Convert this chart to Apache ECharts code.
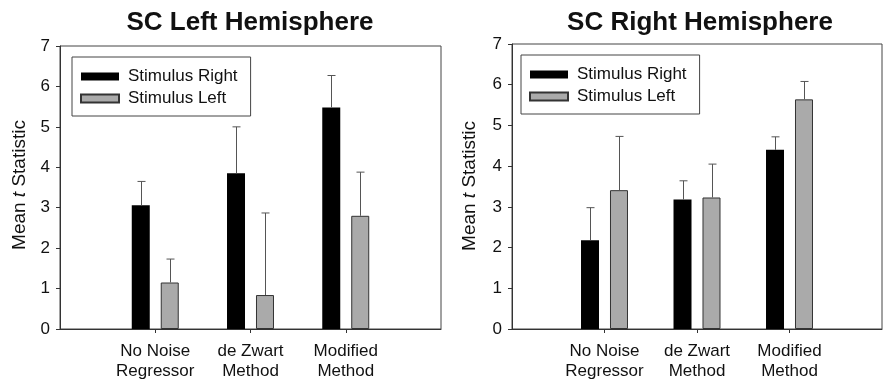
<!DOCTYPE html>
<html>
<head>
<meta charset="utf-8">
<script src="https://cdn.jsdelivr.net/npm/echarts@6/dist/echarts.min.js"></script>
<style>
  html, body { margin: 0; padding: 0; background: #fff; }
  #chart { width: 885px; height: 384px; }
</style>
</head>
<body>
<div id="chart"></div>
<script>
// categories (first/last are empty padding slots on the x axis)
var categories = ['', 'No Noise\nRegressor', 'de Zwart\nMethod', 'Modified\nMethod', ''];
var seriesNames = ['Stimulus Right', 'Stimulus Left'];
var yTicks = [0, 1, 2, 3, 4, 5, 6, 7];

// SC Left Hemisphere: means and standard errors (upper whisker only)
var lhStimRight = [3.06, 3.85, 5.48];
var lhStimRightErr = [0.59, 1.15, 0.79];
var lhStimLeft = [1.15, 0.84, 2.80];
var lhStimLeftErr = [0.58, 2.03, 1.08];

// SC Right Hemisphere
var rhStimRight = [2.18, 3.18, 4.40];
var rhStimRightErr = [0.80, 0.46, 0.32];
var rhStimLeft = [3.41, 3.23, 5.64];
var rhStimLeftErr = [1.32, 0.82, 0.44];

var FONT = '"Liberation Sans", Arial, sans-serif';
var BAR_W = 18;
var BAR_OFFSET = 14.5;   // distance of each bar centre from category centre

var dom = document.getElementById('chart');
var myChart = echarts.init(dom, null, { renderer: 'canvas' });

function pairs(arr) {
    return arr.map(function (v, i) { return [i + 1, v]; });
}
function errRows(means, errs) {
    return means.map(function (v, i) { return [i + 1, v, errs[i]]; });
}

// upper error whisker with a small cap
function errorRender(offset) {
    return function (params, api) {
        var base = api.coord([api.value(0), api.value(1)]);
        var top = api.coord([api.value(0), api.value(1) + api.value(2)]);
        var x = Math.round(base[0] + offset) + 0.5;
        var st = { stroke: '#555', lineWidth: 1 };
        return {
            type: 'group',
            children: [
                { type: 'line', shape: { x1: x, y1: base[1], x2: x, y2: top[1] }, style: st },
                { type: 'line', shape: { x1: x - 4, y1: top[1], x2: x + 4, y2: top[1] }, style: st }
            ]
        };
    };
}

function xAxisFor(gi) {
    return {
        type: 'category',
        gridIndex: gi,
        data: categories,
        boundaryGap: false,
        axisLine: { lineStyle: { color: '#333', width: 1 } },
        axisTick: {
            length: 4,
            interval: function (i) { return i > 0 && i < categories.length - 1; },
            lineStyle: { color: '#333' }
        },
        axisLabel: {
            interval: 0,
            margin: 12,
            color: '#111',
            fontSize: 17,
            lineHeight: 20,
            fontFamily: FONT
        },
        splitLine: { show: false }
    };
}

function yAxisFor(gi) {
    return {
        type: 'value',
        gridIndex: gi,
        min: yTicks[0],
        max: yTicks[yTicks.length - 1],
        interval: 1,
        axisLine: { show: true, lineStyle: { color: '#333', width: 1 } },
        axisTick: { show: true, length: 4, lineStyle: { color: '#333' } },
        axisLabel: { margin: 10, color: '#111', fontSize: 17, fontFamily: FONT },
        splitLine: { show: false }
    };
}

// rotated y axis title "Mean t Statistic" with italic t, built from three pieces
var measureCtx = document.createElement('canvas').getContext('2d');
function textW(str, font) {
    measureCtx.font = font;
    return measureCtx.measureText(str).width;
}
function yTitle(x, y) {
    var fN = '19px ' + FONT, fI = 'italic 19px ' + FONT;
    var parts = [['Mean ', fN], ['t', fI], [' Statistic', fN]];
    var total = 0;
    parts.forEach(function (p) { total += textW(p[0], p[1]); });
    var cx = -total / 2;
    var kids = parts.map(function (p) {
        var el = {
            type: 'text', x: cx, y: 0,
            style: { text: p[0], font: p[1], fill: '#111', align: 'left', verticalAlign: 'middle' }
        };
        cx += textW(p[0], p[1]);
        return el;
    });
    return { type: 'group', x: x, y: y, rotation: Math.PI / 2, children: kids };
}

function legendFor(left, top) {
    return {
        orient: 'vertical',
        left: left,
        top: top,
        data: seriesNames,
        icon: 'rect',
        itemWidth: 38,
        itemHeight: 8,
        itemGap: 5,
        padding: [11, 13, 9, 8],
        borderColor: '#444',
        borderWidth: 1,
        selectedMode: false,
        textStyle: { fontSize: 17, color: '#111', fontFamily: FONT, padding: [0, 0, 0, 4] }
    };
}

function barSeries(name, gi, values, color) {
    return {
        name: name,
        type: 'bar',
        xAxisIndex: gi,
        yAxisIndex: gi,
        barWidth: BAR_W,
        barGap: '61%',
        data: pairs(values),
        itemStyle: { color: color, borderColor: '#333', borderWidth: color === '#000' ? 0 : 1 },
        z: 2
    };
}

function errSeries(gi, means, errs, offset) {
    return {
        type: 'custom',
        xAxisIndex: gi,
        yAxisIndex: gi,
        data: errRows(means, errs),
        renderItem: errorRender(offset),
        encode: { x: 0, y: 1 },
        z: 3,
        silent: true
    };
}

var option = {
    animation: false,
    backgroundColor: '#fff',
    textStyle: { fontFamily: FONT },
    graphic: [
        { type: 'text', x: 250, y: 23, style: { text: 'SC Left Hemisphere', font: 'bold 26px ' + FONT, fill: '#111', align: 'center', verticalAlign: 'middle' } },
        { type: 'text', x: 700, y: 23, style: { text: 'SC Right Hemisphere', font: 'bold 26px ' + FONT, fill: '#111', align: 'center', verticalAlign: 'middle' } },
        yTitle(20, 185),
        yTitle(470, 186)
    ],
    legend: [legendFor(72, 57), legendFor(521, 55)],
    grid: [
        { left: 60, top: 46, width: 381, height: 283, show: true, borderColor: '#444', borderWidth: 1, backgroundColor: 'transparent' },
        { left: 512, top: 44, width: 385, height: 285, show: true, borderColor: '#444', borderWidth: 1, backgroundColor: 'transparent' }
    ],
    xAxis: [xAxisFor(0), xAxisFor(1)],
    yAxis: [yAxisFor(0), yAxisFor(1)],
    series: [
        barSeries('Stimulus Right', 0, lhStimRight, '#000'),
        barSeries('Stimulus Left', 0, lhStimLeft, '#aaaaaa'),
        errSeries(0, lhStimRight, lhStimRightErr, -BAR_OFFSET),
        errSeries(0, lhStimLeft, lhStimLeftErr, BAR_OFFSET),
        barSeries('Stimulus Right', 1, rhStimRight, '#000'),
        barSeries('Stimulus Left', 1, rhStimLeft, '#aaaaaa'),
        errSeries(1, rhStimRight, rhStimRightErr, -BAR_OFFSET),
        errSeries(1, rhStimLeft, rhStimLeftErr, BAR_OFFSET)
    ]
};

myChart.setOption(option);
window.addEventListener('resize', myChart.resize);
</script>
</body>
</html>
